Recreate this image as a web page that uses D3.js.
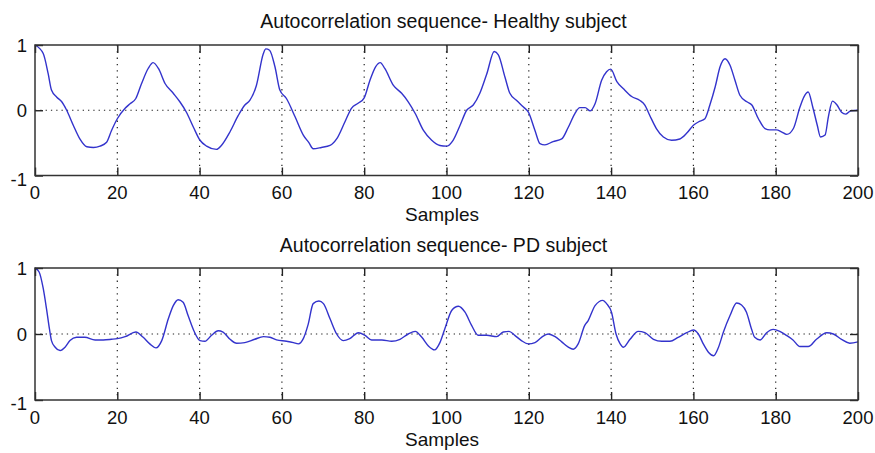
<!DOCTYPE html>
<html>
<head>
<meta charset="utf-8">
<script src="https://cdn.jsdelivr.net/npm/d3@7/dist/d3.min.js"></script>
<style>
  html, body { margin: 0; padding: 0; background: #ffffff; }
  svg { display: block; }
  text { font-family: "Liberation Sans", Arial, sans-serif; fill: #111; }
</style>
</head>
<body>
<svg id="chart" width="875" height="453"></svg>
<script>
// ---------- data ----------
const titles = ["Autocorrelation sequence- Healthy subject", "Autocorrelation sequence- PD subject"];
const xLabel = "Samples";
const xTicks = [0, 20, 40, 60, 80, 100, 120, 140, 160, 180, 200];
const yTicks = [-1, 0, 1];

const healthyLag = [0, 2, 3.2, 4, 5.3, 6.5, 7.7, 9.3, 10.9, 12.6, 14.2, 15.8, 17.4, 18.6, 20, 21.9, 23.1, 24.5, 25.9, 27.5, 28.7, 30, 31.6, 33.6, 35.2, 36.8, 38.5, 40.1, 41.7, 44.1, 45.3, 47.4, 49.4, 51, 52.2, 53.8, 55.5, 56.1, 57, 58.3, 59.5, 61.1, 63.2, 65.2, 66.6, 67.6, 69.6, 71.7, 73.3, 75.3, 76.9, 78.6, 80, 81.4, 82.8, 83.9, 85, 87.1, 89.1, 90.7, 92.4, 94.4, 96.4, 98.4, 100, 101.6, 103.3, 104.9, 106.5, 108.1, 109.8, 111.6, 112.6, 114.2, 115.4, 117.05, 118.7, 119.9, 121.5, 122.7, 123.9, 125.9, 128, 129.6, 131.2, 132.4, 133.7, 134.9, 136.1, 137.7, 138.9, 139.9, 141.4, 143, 145, 147, 148.2, 149.4, 151, 152.7, 154.7, 156.7, 158.4, 160, 161.2, 162.8, 164, 165.3, 166.5, 167.7, 168.9, 170.1, 171.3, 173, 174.2, 175.8, 177.4, 178.6, 180.2, 181.4, 182.7, 184.3, 185.9, 186.9, 187.9, 189, 190.1, 190.9, 192, 192.8, 193.8, 194.9, 196, 197, 198.2, 200];
const healthyValue = [1, 0.87, 0.56, 0.31, 0.2, 0.13, 0, -0.23, -0.44, -0.56, -0.57, -0.55, -0.49, -0.31, -0.13, 0.03, 0.1, 0.18, 0.41, 0.64, 0.73, 0.64, 0.41, 0.26, 0.13, -0.03, -0.26, -0.46, -0.55, -0.6, -0.54, -0.33, -0.08, 0.08, 0.15, 0.38, 0.87, 0.94, 0.92, 0.67, 0.31, 0.18, -0.1, -0.38, -0.5, -0.59, -0.57, -0.54, -0.44, -0.18, 0.03, 0.11, 0.19, 0.46, 0.67, 0.73, 0.64, 0.38, 0.26, 0.13, -0.05, -0.31, -0.46, -0.54, -0.55, -0.46, -0.23, 0, 0.08, 0.26, 0.56, 0.9, 0.85, 0.51, 0.26, 0.15, 0.05, -0.03, -0.31, -0.51, -0.53, -0.48, -0.44, -0.26, -0.05, 0.04, 0.04, -0.01, 0.1, 0.46, 0.59, 0.63, 0.44, 0.33, 0.21, 0.15, 0.08, -0.08, -0.28, -0.41, -0.46, -0.44, -0.35, -0.23, -0.18, -0.13, 0.08, 0.36, 0.67, 0.79, 0.69, 0.46, 0.23, 0.13, 0.08, -0.13, -0.28, -0.3, -0.3, -0.33, -0.37, -0.28, 0.05, 0.21, 0.28, 0.05, -0.23, -0.41, -0.38, -0.1, 0.14, 0.08, -0.03, -0.06, -0.01, 0];

const pdLag = [0, 1, 2, 2.8, 3.5, 4, 4.9, 6.1, 7.3, 8.5, 10.1, 12.1, 14.6, 16.6, 18.6, 20, 21.9, 24.5, 26.3, 27.9, 29.4, 30.8, 32.4, 33.6, 34.8, 36, 37.2, 38.6, 40.1, 41.3, 42.9, 44.5, 45.7, 47.4, 49, 51, 53.4, 55.5, 57.1, 58.7, 61.1, 62.8, 64, 65.2, 66.4, 67.6, 69, 70.1, 71.7, 73.3, 74.9, 76.5, 78.6, 80.2, 81.8, 84.3, 86.7, 88.7, 90.7, 92.4, 94, 95.6, 97.1, 98.4, 99.6, 101.3, 102.9, 104.5, 106.1, 107.7, 109.8, 112.2, 113.8, 115.2, 116.6, 118.2, 119.9, 121.5, 123.1, 124.7, 126.4, 128, 129.6, 130.8, 132, 133.6, 134.4, 136.1, 138, 138.9, 140.1, 141.2, 142.2, 143, 144.6, 146.6, 148.2, 150.3, 152.3, 154.3, 156.3, 158.4, 160, 161.2, 162.4, 163.7, 164.9, 166.1, 167.3, 168.9, 170.5, 171.7, 172.9, 174.1, 174.9, 176.2, 177.8, 179.4, 181, 182.6, 184.2, 185.9, 187.9, 189.9, 192.4, 194, 196, 198, 200];
const pdValue = [1, 0.94, 0.69, 0.38, 0.08, -0.1, -0.2, -0.25, -0.2, -0.1, -0.05, -0.05, -0.09, -0.09, -0.08, -0.07, -0.04, 0.03, -0.05, -0.15, -0.21, -0.1, 0.23, 0.43, 0.52, 0.48, 0.28, 0.05, -0.1, -0.11, -0.02, 0.05, 0.03, -0.08, -0.14, -0.13, -0.08, -0.04, -0.05, -0.09, -0.11, -0.13, -0.15, -0.07, 0.15, 0.46, 0.5, 0.46, 0.23, 0, -0.1, -0.07, 0.02, -0.02, -0.09, -0.09, -0.11, -0.08, 0, 0.04, -0.05, -0.18, -0.24, -0.13, 0.08, 0.36, 0.42, 0.33, 0.13, -0.02, -0.02, -0.04, 0.03, 0.04, -0.02, -0.1, -0.15, -0.13, -0.05, 0, -0.04, -0.12, -0.2, -0.23, -0.15, 0.13, 0.2, 0.43, 0.51, 0.46, 0.33, 0, -0.15, -0.2, -0.08, 0.04, 0.02, -0.08, -0.11, -0.11, -0.05, 0.02, 0.06, 0, -0.15, -0.28, -0.33, -0.2, 0.03, 0.28, 0.47, 0.44, 0.33, 0.08, -0.05, -0.09, 0.02, 0.07, 0.04, -0.02, -0.09, -0.19, -0.19, -0.08, 0.02, 0, -0.08, -0.14, -0.12];

// ---------- layout ----------
const svg = d3.select("#chart");
const panels = [
  { top: 45, bottom: 175.5, lag: healthyLag, value: healthyValue, title: titles[0], titleY: 28, tickY: 199, labelY: 221 },
  { top: 268, bottom: 400, lag: pdLag, value: pdValue, title: titles[1], titleY: 252, tickY: 424, labelY: 446 }
];
const left = 35, right = 858;
const x = d3.scaleLinear().domain([0, 200]).range([left, right]);

panels.forEach(p => {
  const y = d3.scaleLinear().domain([-1, 1]).range([p.bottom, p.top]);
  const g = svg.append("g");

  // dotted grid
  g.append("g").selectAll("line.vg")
    .data(xTicks.filter(t => t > 0 && t < 200))
    .join("line")
    .attr("x1", d => x(d)).attr("x2", d => x(d))
    .attr("y1", p.top).attr("y2", p.bottom)
    .attr("stroke", "#222").attr("stroke-width", 1.2)
    .attr("stroke-dasharray", "1.3,5");
  g.append("g").selectAll("line.hg")
    .data(yTicks.filter(t => t === 0))
    .join("line")
    .attr("x1", left).attr("x2", right)
    .attr("y1", d => y(d)).attr("y2", d => y(d))
    .attr("stroke", "#222").attr("stroke-width", 1.2)
    .attr("stroke-dasharray", "1.3,4");

  // series line
  const line = d3.line()
    .x((d, i) => x(p.lag[i]))
    .y(d => y(d))
    .curve(d3.curveMonotoneX);
  g.append("path")
    .datum(p.value)
    .attr("d", line)
    .attr("fill", "none")
    .attr("stroke", "#3333cc")
    .attr("stroke-width", 1.4)
    .attr("stroke-linejoin", "round");

  // axes (MATLAB style: ticks inside, box)
  const axB = d3.axisBottom(x).tickValues(xTicks).tickSize(-8).tickFormat("");
  g.append("g").attr("transform", `translate(0,${p.bottom})`).call(axB);
  const axT = d3.axisTop(x).tickValues(xTicks).tickSize(-8).tickFormat("");
  g.append("g").attr("transform", `translate(0,${p.top})`).call(axT);
  const axL = d3.axisLeft(y).tickValues(yTicks).tickSize(-8).tickFormat("");
  g.append("g").attr("transform", `translate(${left},0)`).call(axL);
  const axR = d3.axisRight(y).tickValues(yTicks).tickSize(-8).tickFormat("");
  g.append("g").attr("transform", `translate(${right},0)`).call(axR);
  g.selectAll(".domain").remove();
  g.selectAll(".tick line").attr("stroke", "#222").attr("stroke-width", 1.4);

  // box
  g.append("rect")
    .attr("x", left).attr("y", p.top)
    .attr("width", right - left).attr("height", p.bottom - p.top)
    .attr("fill", "none").attr("stroke", "#333").attr("stroke-width", 1.5);

  // tick labels
  g.append("g").selectAll("text")
    .data(xTicks).join("text")
    .attr("x", d => x(d)).attr("y", p.tickY)
    .attr("text-anchor", "middle")
    .attr("font-size", 18.5)
    .text(d => d);
  g.append("g").selectAll("text")
    .data(yTicks).join("text")
    .attr("x", 27).attr("y", d => y(d) + 7 + (d === -1 ? 3 : 0))
    .attr("text-anchor", "end")
    .attr("font-size", 18.5)
    .text(d => d);

  // title + x label
  g.append("text").attr("x", 443.5).attr("y", p.titleY)
    .attr("text-anchor", "middle").attr("font-size", 19.5)
    .text(p.title);
  g.append("text").attr("x", 442).attr("y", p.labelY)
    .attr("text-anchor", "middle").attr("font-size", 19)
    .text(xLabel);
});
</script>
</body>
</html>
